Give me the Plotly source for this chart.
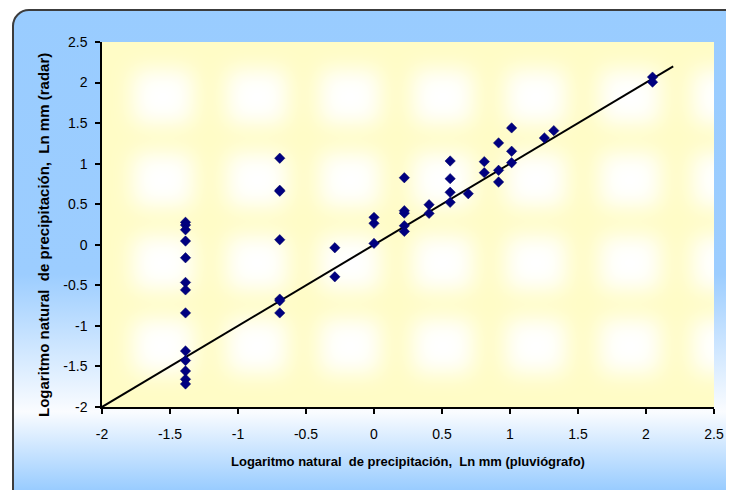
import base64
import plotly.graph_objects as go

# ---- data ----
x_pluviografo = [
    -1.386, -1.386, -1.386, -1.386, -1.386, -1.386, -1.386, -1.386, -1.386, -1.386, -1.386, -1.386, -1.386,
    -0.693, -0.693, -0.693, -0.693, -0.693, -0.693, -0.693,
    -0.288, -0.288,
    0.0, 0.0, 0.0,
    0.223, 0.223, 0.223, 0.223, 0.223,
    0.405, 0.405,
    0.560, 0.560, 0.560, 0.560,
    0.693,
    0.811, 0.811,
    0.916, 0.916, 0.916,
    1.012, 1.012, 1.012,
    1.253,
    1.322,
    2.048, 2.048,
]
y_radar = [
    0.277, 0.243, 0.185, 0.046, -0.160, -0.464, -0.556, -0.840, -1.309, -1.427, -1.556, -1.658, -1.716,
    1.067, 0.672, 0.660, 0.062, -0.670, -0.690, -0.840,
    -0.037, -0.395,
    0.338, 0.264, 0.017,
    0.827, 0.420, 0.390, 0.235, 0.165,
    0.494, 0.387,
    1.033, 0.815, 0.647, 0.523,
    0.630,
    1.025, 0.889,
    1.256, 0.918, 0.774,
    1.441, 1.153, 1.012,
    1.317,
    1.407,
    2.067, 2.005,
]
line_x = [-2.0, 2.2]
line_y = [-2.0, 2.2]

tick_vals = [-2, -1.5, -1, -0.5, 0, 0.5, 1, 1.5, 2, 2.5]
tick_text = ["-2", "-1.5", "-1", "-0.5", "0", "0.5", "1", "1.5", "2", "2.5"]

x_title = "Logaritmo natural\u00a0 de precipitación,\u00a0 Ln mm (pluviógrafo)"
y_title = "Logaritmo natural\u00a0 de precipitación,\u00a0 Ln mm (radar)"

# ---- layout geometry (page body has an 8px margin, so compensate) ----
OFF = 8
W, H = 734, 490
ML, MT = 102 - OFF, 42 - OFF
PW, PH = 612, 365
MR, MB = W - ML - PW, H - MT - PH

# ---- decorative background (frame gradient + textured plot area) ----
blob_cx = [163, 257, 350, 443, 536, 630, 723]
blob_cy = [97, 180, 263, 346]
blobs = "".join(
    f'<rect x="{cx-30-OFF}" y="{cy-27-OFF}" width="60" height="54" rx="8" fill="#FFFFFF"/>'
    for cx in blob_cx for cy in blob_cy
)
svg = f'''<svg xmlns="http://www.w3.org/2000/svg" width="{W}" height="{H}" viewBox="0 0 {W} {H}">
<defs>
<linearGradient id="bg" x1="0" y1="{-OFF}" x2="0" y2="{H-OFF}" gradientUnits="userSpaceOnUse">
<stop offset="0" stop-color="#99CCFF"/>
<stop offset="0.56" stop-color="#9CCDFF"/>
<stop offset="0.84" stop-color="#FAFCFF"/>
<stop offset="1" stop-color="#99CCFF"/>
</linearGradient>
<filter id="blur" filterUnits="userSpaceOnUse" x="0" y="0" width="{W}" height="{H}"><feGaussianBlur stdDeviation="11"/></filter>
<clipPath id="pa"><rect x="{ML}" y="{MT}" width="{PW}" height="{PH}"/></clipPath>
</defs>
<rect width="{W}" height="{H}" fill="#FFFFFF"/>
<rect x="{13-OFF}" y="{10-OFF}" width="780" height="540" rx="16" fill="url(#bg)" stroke="#3C3C3C" stroke-width="2"/>
<rect x="{ML}" y="{MT}" width="{PW}" height="{PH}" fill="#FFFCC6"/>
<g clip-path="url(#pa)"><g filter="url(#blur)">{blobs}</g></g>
</svg>'''
svg_uri = "data:image/svg+xml;base64," + base64.b64encode(svg.encode("utf-8")).decode("ascii")

FONT = "Liberation Sans, Arial, sans-serif"

fig = go.Figure()
fig.add_trace(go.Scatter(
    x=line_x, y=line_y, mode="lines",
    line=dict(color="#000000", width=2),
    hoverinfo="skip", showlegend=False,
))
fig.add_trace(go.Scatter(
    x=x_pluviografo, y=y_radar, mode="markers",
    marker=dict(symbol="diamond", size=8, color="#000080",
                line=dict(color="#000060", width=0.5)),
    showlegend=False,
))

axis_common = dict(
    tickmode="array", tickvals=tick_vals, ticktext=tick_text,
    showgrid=False, zeroline=False, showline=True,
    linecolor="#000000", linewidth=1.5,
    ticks="outside", ticklen=5, tickwidth=1.5, tickcolor="#000000",
    tickfont=dict(family=FONT, size=14, color="#000000"),
    mirror=False,
)
fig.update_xaxes(range=[-2, 2.5], ticklabelstandoff=8, **axis_common)
fig.update_yaxes(range=[-2, 2.5], ticklabelstandoff=5, **axis_common)

fig.update_layout(
    width=W, height=H,
    margin=dict(l=ML, r=MR, t=MT, b=MB, pad=0),
    paper_bgcolor="#FFFFFF",
    plot_bgcolor="rgba(0,0,0,0)",
    font=dict(family=FONT, color="#000000"),
    images=[dict(
        source=svg_uri, xref="paper", yref="paper",
        x=-ML / PW, y=1 + MT / PH, sizex=W / PW, sizey=H / PH,
        xanchor="left", yanchor="top", sizing="stretch", layer="below",
    )],
    annotations=[
        dict(text=x_title, xref="paper", yref="paper",
             x=(408 - 102) / PW, y=(407 - 461) / PH,
             xanchor="center", yanchor="middle", showarrow=False,
             font=dict(family=FONT, size=13, color="#000000", weight="bold")),
        dict(text=y_title, xref="paper", yref="paper",
             x=(44 - 102) / PW, y=(407 - 235) / PH,
             xanchor="center", yanchor="middle", showarrow=False, textangle=-90,
             font=dict(family=FONT, size=15, color="#000000", weight="bold")),
    ],
)

fig.write_html("out.html")
